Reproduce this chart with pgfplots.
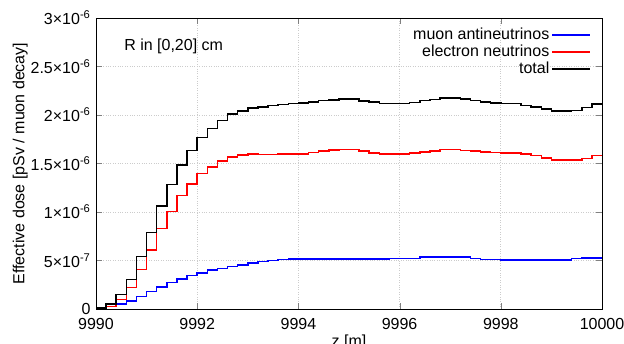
\documentclass[border=0pt]{standalone}
\usepackage{fontspec}
\setmainfont{Liberation Sans}
\usepackage{pgfplots}
\usepackage{pgfplotstable}
\pgfplotsset{compat=1.18}
\pgfplotstableread{
z blue red total
9990.0 0.003 0.005 0.008
9990.2 0.024 0.025 0.050
9990.4 0.050 0.100 0.150
9990.6 0.083 0.220 0.302
9990.8 0.130 0.405 0.540
9991.0 0.180 0.610 0.790
9991.2 0.228 0.830 1.060
9991.4 0.275 1.005 1.285
9991.6 0.310 1.170 1.483
9991.8 0.345 1.290 1.632
9992.0 0.373 1.395 1.766
9992.2 0.400 1.465 1.862
9992.4 0.420 1.525 1.942
9992.6 0.440 1.567 2.008
9992.8 0.456 1.590 2.043
9993.0 0.475 1.598 2.070
9993.2 0.490 1.594 2.083
9993.4 0.502 1.595 2.097
9993.6 0.510 1.597 2.110
9993.8 0.515 1.600 2.120
9994.0 0.513 1.600 2.122
9994.2 0.513 1.614 2.135
9994.4 0.513 1.628 2.148
9994.6 0.513 1.638 2.156
9994.8 0.513 1.645 2.166
9995.0 0.513 1.645 2.166
9995.2 0.513 1.631 2.145
9995.4 0.513 1.610 2.132
9995.6 0.513 1.597 2.118
9995.8 0.521 1.597 2.118
9996.0 0.521 1.597 2.118
9996.2 0.521 1.607 2.130
9996.4 0.534 1.620 2.150
9996.6 0.534 1.628 2.158
9996.8 0.534 1.642 2.173
9997.0 0.534 1.642 2.173
9997.2 0.534 1.635 2.165
9997.4 0.521 1.628 2.147
9997.6 0.510 1.620 2.135
9997.8 0.510 1.614 2.124
9998.0 0.505 1.607 2.116
9998.2 0.505 1.607 2.116
9998.4 0.505 1.597 2.100
9998.6 0.505 1.580 2.083
9998.8 0.505 1.559 2.062
9999.0 0.505 1.538 2.040
9999.2 0.505 1.538 2.040
9999.4 0.520 1.535 2.045
9999.6 0.527 1.552 2.075
9999.8 0.527 1.583 2.112
10000.0 0.527 1.583 2.112
}\datatable
\begin{document}
\fontsize{16}{19}\selectfont
\begin{tikzpicture}
\path[use as bounding box] (0,0) rectangle (624pt,343pt);
\begin{axis}[
  at={(96pt,34pt)}, anchor=south west,
  scale only axis, width=506pt, height=291pt,
  xmin=9990, xmax=10000, ymin=0, ymax=3,
  scaled x ticks=false, scaled y ticks=false,
  xtick={9990,9992,9994,9996,9998,10000},
  xticklabels={9990,9992,9994,9996,9998,10000},
  ytick={0,0.5,1,1.5,2,2.5,3},
  yticklabels={0,5\texttimes10\textsuperscript{-7},1\texttimes10\textsuperscript{-6},1.5\texttimes10\textsuperscript{-6},2\texttimes10\textsuperscript{-6},2.5\texttimes10\textsuperscript{-6},3\texttimes10\textsuperscript{-6}},
  tick align=inside, major tick length=6pt,
  tick label style={font=\fontsize{16}{19}\selectfont},
  xticklabel style={yshift=-4pt},
  label style={font=\fontsize{16}{19}\selectfont},
  xlabel style={yshift=6pt},
  ylabel style={yshift=-8pt},
  grid=major, grid style={gray!40, dotted, line width=0.8pt},
  axis line style={line width=0.8pt},
  xlabel={z [m]}, ylabel={Effective dose [pSv / muon decay]},
  legend plot pos=right,
  legend cell align=right,
  legend image code/.code={\draw[#1] (0pt,0pt) -- (38pt,0pt);},
  legend style={draw=none, fill=none, at={(1,1)}, anchor=north east, xshift=-8pt, yshift=-6pt,
    font=\fontsize{16}{17}\selectfont, row sep=-1pt},
]
\addplot[const plot, blue, line width=1.5pt] table[x=z, y=blue] {\datatable};
\addlegendentry{muon antineutrinos}
\addplot[const plot, red, line width=1.5pt] table[x=z, y=red] {\datatable};
\addlegendentry{electron neutrinos}
\addplot[const plot, black, line width=1.5pt] table[x=z, y=total] {\datatable};
\addlegendentry{total}
\node[anchor=west, font=\fontsize{16}{19}\selectfont] at (axis cs:9990.45,2.71) {R in [0,20] cm};
\end{axis}
\end{tikzpicture}
\end{document}
